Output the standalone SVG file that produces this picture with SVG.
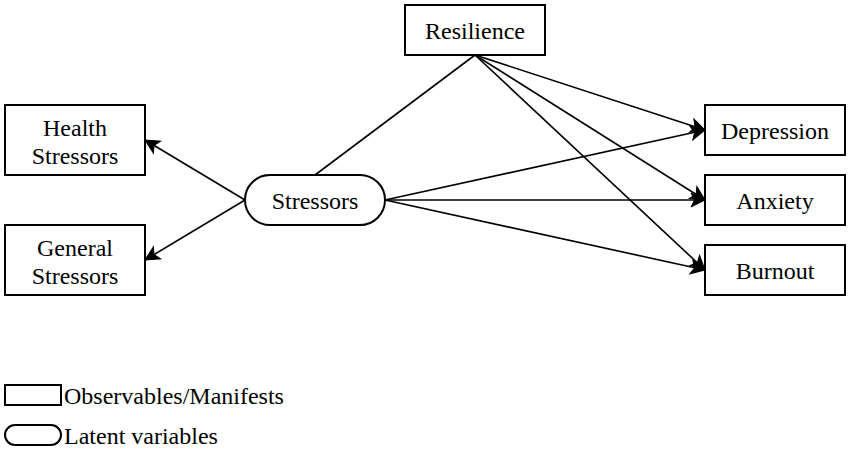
<svg xmlns="http://www.w3.org/2000/svg" width="850" height="470" viewBox="0 0 850 470">
<style>
.box{fill:#fff;stroke:#000;stroke-width:2}
.t{font-family:"Liberation Serif","Times New Roman",serif;font-size:24px;fill:#000;text-anchor:middle}
.tl{font-family:"Liberation Serif","Times New Roman",serif;font-size:24px;fill:#000}
.e{fill:none;stroke:#000;stroke-width:1.6}
</style>
<defs>
<marker id="arr" markerUnits="userSpaceOnUse" markerWidth="20" markerHeight="20" viewBox="-16 -10 20 20" refX="0" refY="0" orient="auto">
<path d="M0,0 L-14,-7 L-10.5,0 L-14,7 Z" fill="#000" stroke="#000" stroke-width="1"/>
</marker>
</defs>
<rect width="850" height="470" fill="#fff"/>
<g id="connectors">
<line class="e" x1="475" y1="55" x2="315" y2="175"/>
<line class="e" x1="475" y1="55" x2="705" y2="130" marker-end="url(#arr)"/>
<line class="e" x1="475" y1="55" x2="705" y2="200" marker-end="url(#arr)"/>
<line class="e" x1="475" y1="55" x2="705" y2="270" marker-end="url(#arr)"/>
<line class="e" x1="385" y1="200" x2="705" y2="130" marker-end="url(#arr)"/>
<line class="e" x1="385" y1="200" x2="705" y2="200" marker-end="url(#arr)"/>
<line class="e" x1="385" y1="200" x2="705" y2="270" marker-end="url(#arr)"/>
<line class="e" x1="245" y1="200" x2="145" y2="140" marker-end="url(#arr)"/>
<line class="e" x1="245" y1="200" x2="145" y2="260" marker-end="url(#arr)"/>
</g>
<g id="resilience"><rect class="box" x="405" y="5" width="140" height="50"/><text class="t" x="475" y="39">Resilience</text></g>
<g id="stressors"><rect class="box" x="245" y="175" width="140" height="50" rx="25" ry="25"/><text class="t" x="315" y="209">Stressors</text></g>
<g id="health"><rect class="box" x="5" y="105" width="140" height="70"/><text class="t" x="75" y="136">Health</text><text class="t" x="75" y="164">Stressors</text></g>
<g id="general"><rect class="box" x="5" y="225" width="140" height="70"/><text class="t" x="75" y="256">General</text><text class="t" x="75" y="284">Stressors</text></g>
<g id="depression"><rect class="box" x="705" y="105" width="140" height="50"/><text class="t" x="775" y="139">Depression</text></g>
<g id="anxiety"><rect class="box" x="705" y="175" width="140" height="50"/><text class="t" x="775" y="209">Anxiety</text></g>
<g id="burnout"><rect class="box" x="705" y="245" width="140" height="50"/><text class="t" x="775" y="279">Burnout</text></g>
<g id="legend-observables"><rect class="box" x="5" y="385" width="56" height="20"/><text class="tl" x="64" y="404">Observables/Manifests</text></g>
<g id="legend-latent"><rect class="box" x="5" y="425" width="56" height="20" rx="10" ry="10"/><text class="tl" x="64" y="444">Latent variables</text></g>
</svg>
